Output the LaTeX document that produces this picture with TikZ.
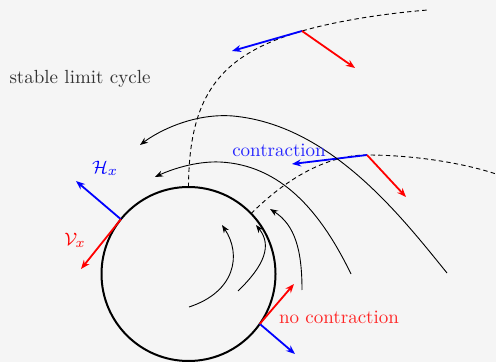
\documentclass[tikz,border=0pt]{standalone}
\usetikzlibrary{arrows.meta}
\definecolor{bg}{RGB}{245,245,245}
\begin{document}
\begin{tikzpicture}[x=0.5pt,y=-0.5pt,
  flow/.style={line width=0.45pt,-{Stealth[length=4pt,width=3pt]}},
  dashcurve/.style={line width=0.45pt,dash pattern=on 2.2pt off 1.6pt},
  hvec/.style={blue,line width=0.9pt,-{Stealth[length=4.5pt,width=3.5pt]}},
  vvec/.style={red,line width=0.9pt,-{Stealth[length=4.5pt,width=3.5pt]}},
  lbl/.style={font=\fontsize{9.5}{11.4}\selectfont,inner sep=0pt}]
\fill[bg] (0,0) rectangle (496,362);
\useasboundingbox (0,0) rectangle (496,362);
% limit cycle
\node[circle,draw,line width=1pt,minimum size=87pt,inner sep=0pt,outer sep=0pt] (cyc) at (188.5,274) {};
% dashed trajectories
\coordinate (p1) at (302,31);
\coordinate (e1) at (428,10);
\coordinate (p2) at (367,155);
\coordinate (e2) at (496,174);
\draw[dashcurve] (cyc.north) .. controls (189,95) and (220,55) .. (p1)
  .. controls (340,20) and (390,13) .. (e1);
\draw[dashcurve] (cyc.44.3) .. controls (290,175) and (330,155) .. (p2)
  .. controls (410,155) and (460,162) .. (e2);
% vectors at p1
\coordinate (h1) at (232,51);
\coordinate (v1) at (355,68);
\draw[hvec] (p1) -- (h1);
\draw[vvec] (p1) -- (v1);
% vectors at p2
\coordinate (h2) at (292,164);
\coordinate (v2) at (406,197);
\draw[hvec] (p2) -- (h2);
\draw[vvec] (p2) -- (v2);
% vectors on cycle, left
\coordinate (h3) at (76,181);
\coordinate (v3) at (81,269);
\draw[hvec] (cyc.141.7) -- (h3);
\draw[vvec] (cyc.141.7) -- (v3);
% vectors on cycle, bottom right
\coordinate (h4) at (295,354);
\coordinate (v4) at (294,284);
\draw[hvec] (cyc.-35.5) -- (h4);
\draw[vvec] (cyc.-35.5) -- (v4);
% solid flow lines
\coordinate (s1) at (447,273); \coordinate (t1) at (140,145);
\coordinate (s2) at (351,274); \coordinate (t2) at (155,177);
\coordinate (s3) at (302,290); \coordinate (t3) at (270,209);
\coordinate (s4) at (238,291); \coordinate (t4) at (256,225);
\coordinate (s5) at (189,307); \coordinate (t5) at (222,225);
\draw[flow] (s1) .. controls (400,215) and (330,125) .. (233,116)
  .. controls (195,113) and (160,130) .. (t1);
\draw[flow] (s2) .. controls (320,210) and (280,165) .. (220,162)
  .. controls (195,161) and (170,170) .. (t2);
\draw[flow] (s3) .. controls (302,250) and (295,225) .. (t3);
\draw[flow] (s4) .. controls (265,265) and (272,245) .. (t4);
\draw[flow] (s5) .. controls (235,292) and (242,255) .. (t5);
% labels
\node[lbl,text=black!80] (slc) at (80,79) {stable limit cycle};
\node[lbl,text=blue!85] (con) at (279,150) {contraction};
\node[lbl,text=red!85] (ncon) at (339,317) {no contraction};
\node[lbl,text=blue] (hx) at (105,168) {$\mathcal{H}_x$};
\node[lbl,text=red] (vx) at (75,240) {$\mathcal{V}_x$};
\end{tikzpicture}
\end{document}
